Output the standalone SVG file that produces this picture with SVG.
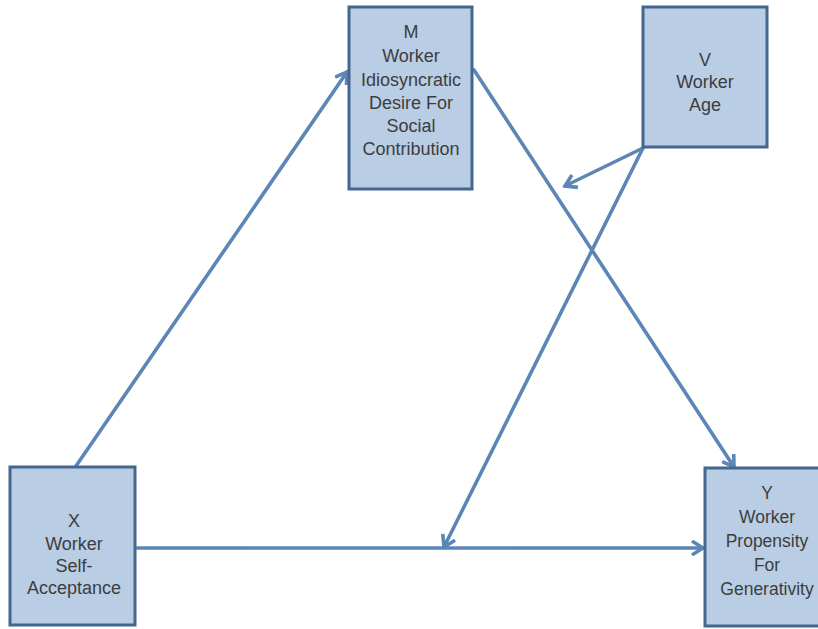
<svg xmlns="http://www.w3.org/2000/svg" width="818" height="629" viewBox="0 0 818 629">
<style>
.box{fill:#b9cde4;stroke:#44678f;stroke-width:3}
.t{font-family:"Liberation Sans",Arial,sans-serif;font-size:18px;fill:#3d3d3d;text-anchor:middle}
.ty{font-size:17.5px}
.c{fill:none;stroke:#5b86b6;stroke-width:3.6;stroke-linecap:round}
</style>
<defs>
<marker id="ah" viewBox="0 0 12 12" refX="10" refY="6" markerWidth="4.6" markerHeight="4.6" orient="auto" markerUnits="strokeWidth">
<polyline points="2,1 10,6 2,11" fill="none" stroke="#5b86b6" stroke-width="2.6" stroke-linejoin="miter"/>
</marker>
</defs>
<rect width="818" height="629" fill="#ffffff"/>
<g id="connectors">
<line class="c" x1="76" y1="466" x2="347" y2="72" marker-end="url(#ah)"/>
<line class="c" x1="474" y1="70" x2="734" y2="467" marker-end="url(#ah)"/>
<line class="c" x1="643" y1="148" x2="565" y2="186" marker-end="url(#ah)"/>
<line class="c" x1="643" y1="148" x2="444" y2="547" marker-end="url(#ah)"/>
<line class="c" x1="137" y1="548" x2="703" y2="548" marker-end="url(#ah)"/>
</g>
<g id="M">
<rect class="box" x="349" y="7" width="123" height="182"/>
<text class="t" x="411" y="38">M</text>
<text class="t" x="411" y="62">Worker</text>
<text class="t" x="411" y="86">Idiosyncratic</text>
<text class="t" x="411" y="109">Desire For</text>
<text class="t" x="411" y="132">Social</text>
<text class="t" x="411" y="155">Contribution</text>
</g>
<g id="V">
<rect class="box" x="643" y="7" width="124" height="140"/>
<text class="t" x="705" y="66">V</text>
<text class="t" x="705" y="88">Worker</text>
<text class="t" x="705" y="111">Age</text>
</g>
<g id="X">
<rect class="box" x="10" y="467" width="125" height="158"/>
<text class="t" x="74" y="527">X</text>
<text class="t" x="74" y="550">Worker</text>
<text class="t" x="74" y="572">Self-</text>
<text class="t" x="74" y="594">Acceptance</text>
</g>
<g id="Y">
<rect class="box" x="705" y="468" width="115" height="158"/>
<text class="t ty" x="767" y="499">Y</text>
<text class="t ty" x="767" y="523">Worker</text>
<text class="t ty" x="767" y="547">Propensity</text>
<text class="t ty" x="767" y="571">For</text>
<text class="t ty" x="767" y="595">Generativity</text>
</g>
</svg>
